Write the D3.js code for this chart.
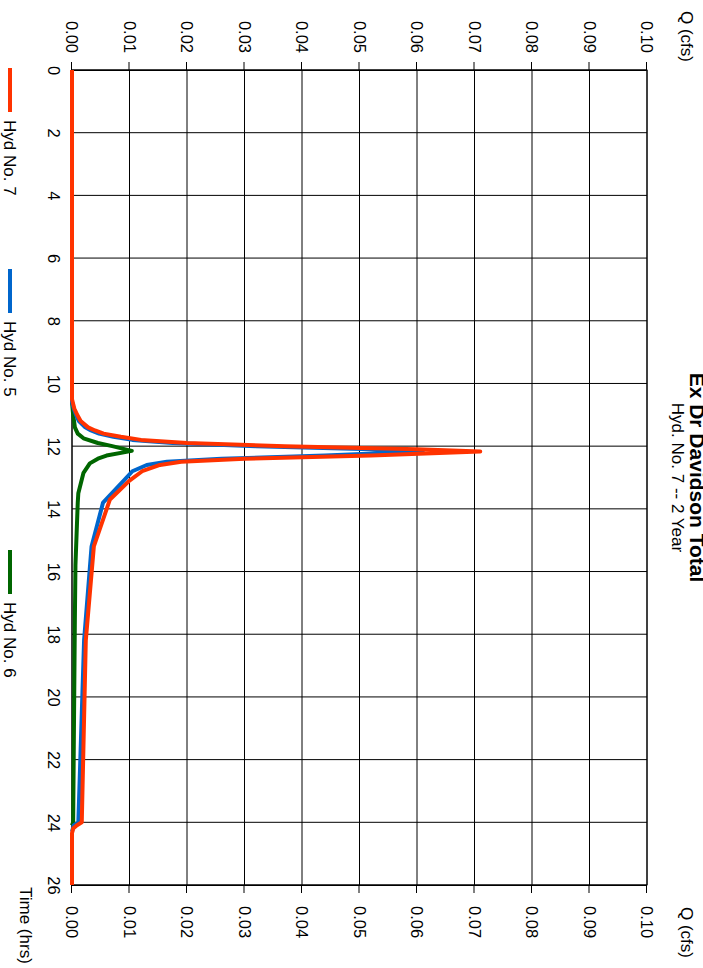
<!DOCTYPE html>
<html lang="en">
<head>
    <meta charset="UTF-8">
    <title>Hyd. No. 7 -- 2 Year</title>
    <script src="https://d3js.org/d3.v7.min.js"></script>
</head>
<body style="margin:0">

<style>
    svg {
        font-family: "Liberation Sans", Arial, Helvetica, sans-serif;
        font-size: 17px;
        background: #fff;
    }
    .grid line {
        stroke: #000;
        stroke-width: 1;
    }
    .axis path, .axis line {
        stroke: #000;
    }
    .axis text {
        font-size: 16.5px;
        fill: #000;
    }
</style>

<div id="hydrograph"></div>

<script>

    // hydrograph values (time in hrs, Q in cfs)
    var hyd7_t = [0, 10.5, 10.8, 11.0, 11.2, 11.4, 11.5, 11.6, 11.7, 11.8, 11.9, 12.0, 12.1, 12.17, 12.3, 12.4, 12.5, 12.6, 12.8, 13.1, 13.7, 15.2, 18.2, 24.0, 24.1, 24.2, 24.35, 26];
    var hyd7_q = [0, 0, 0.0004, 0.0009, 0.0015, 0.0028, 0.0040, 0.0055, 0.0085, 0.0120, 0.0200, 0.0370, 0.0600, 0.0710, 0.0520, 0.0300, 0.0190, 0.0153, 0.0122, 0.0100, 0.0066, 0.0038, 0.0024, 0.0017, 0.0008, 0.0002, 0, 0];

    var hyd5_t = [0, 10.6, 10.8, 11.0, 11.2, 11.4, 11.5, 11.6, 11.7, 11.8, 11.9, 12.0, 12.1, 12.17, 12.3, 12.4, 12.5, 12.6, 12.8, 13.1, 13.8, 15.2, 18.2, 24.0, 24.1, 24.3];
    var hyd5_q = [0, 0, 0.0003, 0.0007, 0.0012, 0.0023, 0.0033, 0.0047, 0.0072, 0.0105, 0.0175, 0.0320, 0.0520, 0.0610, 0.0440, 0.0260, 0.0165, 0.0130, 0.0105, 0.0090, 0.0054, 0.0034, 0.0021, 0.0011, 0.0003, 0];

    var hyd6_t = [0, 10.6, 11.0, 11.4, 11.6, 11.75, 11.9, 12.0, 12.15, 12.3, 12.4, 12.55, 12.85, 13.5, 13.8, 15.8, 17.5, 24.0, 24.1];
    var hyd6_q = [0, 0, 0.0002, 0.0005, 0.0010, 0.0020, 0.0045, 0.0070, 0.0104, 0.0060, 0.0045, 0.0031, 0.0020, 0.0011, 0.0010, 0.0006, 0.0005, 0.0002, 0];

    var timeTicks = [0, 2, 4, 6, 8, 10, 12, 14, 16, 18, 20, 22, 24, 26];
    var qTicks = [0.00, 0.01, 0.02, 0.03, 0.04, 0.05, 0.06, 0.07, 0.08, 0.09, 0.10];

    var seriesNames = ["Hyd No. 7", "Hyd No. 5", "Hyd No. 6"];
    var seriesColors = ["#ff3300", "#0066cc", "#006600"];
    var legendPos = [68, 269, 550];

    // page is 703 x 968, chart is drawn sideways (rotated 90deg clockwise)
    var W = 703, H = 968;

    var svg = d3.select("#hydrograph").append("svg")
        .attr("width", W)
        .attr("height", H);

    // inside g: unrotated chart of 968 wide x 703 tall
    var chart = svg.append("g")
        .attr("transform", "translate(" + W + ",0) rotate(90)");

    var x = d3.scaleLinear().domain([0, 26]).range([70, 885]);
    var y = d3.scaleLinear().domain([0, 0.10]).range([631, 56]);

    // grid
    var grid = chart.append("g").attr("class", "grid");
    grid.selectAll(".vgrid")
        .data(timeTicks).enter()
        .append("line")
        .attr("x1", function(d) { return x(d); })
        .attr("x2", function(d) { return x(d); })
        .attr("y1", y(0))
        .attr("y2", y(0.10));
    grid.selectAll(".hgrid")
        .data(qTicks).enter()
        .append("line")
        .attr("x1", x(0))
        .attr("x2", x(26))
        .attr("y1", function(d) { return y(d); })
        .attr("y2", function(d) { return y(d); });

    // axes
    var fmt = d3.format(".2f");
    chart.append("g")
        .attr("class", "axis")
        .attr("transform", "translate(" + x(0) + ",0)")
        .call(d3.axisLeft(y).tickValues(qTicks).tickSize(8).tickSizeOuter(0).tickPadding(9).tickFormat(fmt));
    chart.append("g")
        .attr("class", "axis")
        .attr("transform", "translate(" + x(26) + ",0)")
        .call(d3.axisRight(y).tickValues(qTicks).tickSize(8).tickSizeOuter(0).tickPadding(13).tickFormat(fmt));
    chart.append("g")
        .attr("class", "axis")
        .attr("transform", "translate(0," + y(0) + ")")
        .call(d3.axisBottom(x).tickValues(timeTicks).tickSize(0).tickPadding(12).tickFormat(d3.format("d")))
        .select(".domain").remove();

    // frame
    chart.append("rect")
        .attr("x", x(0))
        .attr("y", y(0.10))
        .attr("width", x(26) - x(0))
        .attr("height", y(0) - y(0.10))
        .style("fill", "none")
        .style("stroke", "#000");

    // axis titles
    chart.append("text")
        .attr("x", 62).attr("y", 22)
        .style("text-anchor", "end")
        .text("Q (cfs)");
    chart.append("text")
        .attr("x", 907).attr("y", 22)
        .style("text-anchor", "start")
        .text("Q (cfs)");
    chart.append("text")
        .attr("x", 887).attr("y", 683)
        .style("text-anchor", "start")
        .text("Time (hrs)");

    // titles
    chart.append("text")
        .attr("x", (x(0) + x(26)) / 2).attr("y", 13)
        .style("text-anchor", "middle")
        .style("font-weight", "bold")
        .style("font-size", "21px")
        .text("Ex Dr Davidson Total");
    chart.append("text")
        .attr("x", (x(0) + x(26)) / 2).attr("y", 31)
        .style("text-anchor", "middle")
        .text("Hyd. No. 7 -- 2 Year");

    // lines
    var line = d3.line()
        .x(function(d) { return x(d[0]); })
        .y(function(d) { return y(d[1]); });

    var series = [
        d3.zip(hyd7_t, hyd7_q),
        d3.zip(hyd5_t, hyd5_q),
        d3.zip(hyd6_t, hyd6_q)
    ];

    // draw green, then blue, red on top
    [2, 1, 0].forEach(function(i) {
        chart.append("path")
            .datum(series[i])
            .attr("d", line)
            .style("fill", "none")
            .style("stroke", seriesColors[i])
            .style("stroke-width", 4)
            .style("stroke-linejoin", "round");
    });

    // legend
    var legend = chart.selectAll(".legend")
        .data(seriesNames).enter()
        .append("g")
        .attr("transform", function(d, i) { return "translate(" + legendPos[i] + ",693)"; });
    legend.append("line")
        .attr("x1", 0).attr("x2", 44)
        .attr("y1", 0).attr("y2", 0)
        .style("stroke", function(d, i) { return seriesColors[i]; })
        .style("stroke-width", 4);
    legend.append("text")
        .attr("x", 52).attr("y", 6)
        .text(function(d) { return d; });

</script>

</body>
</html>
